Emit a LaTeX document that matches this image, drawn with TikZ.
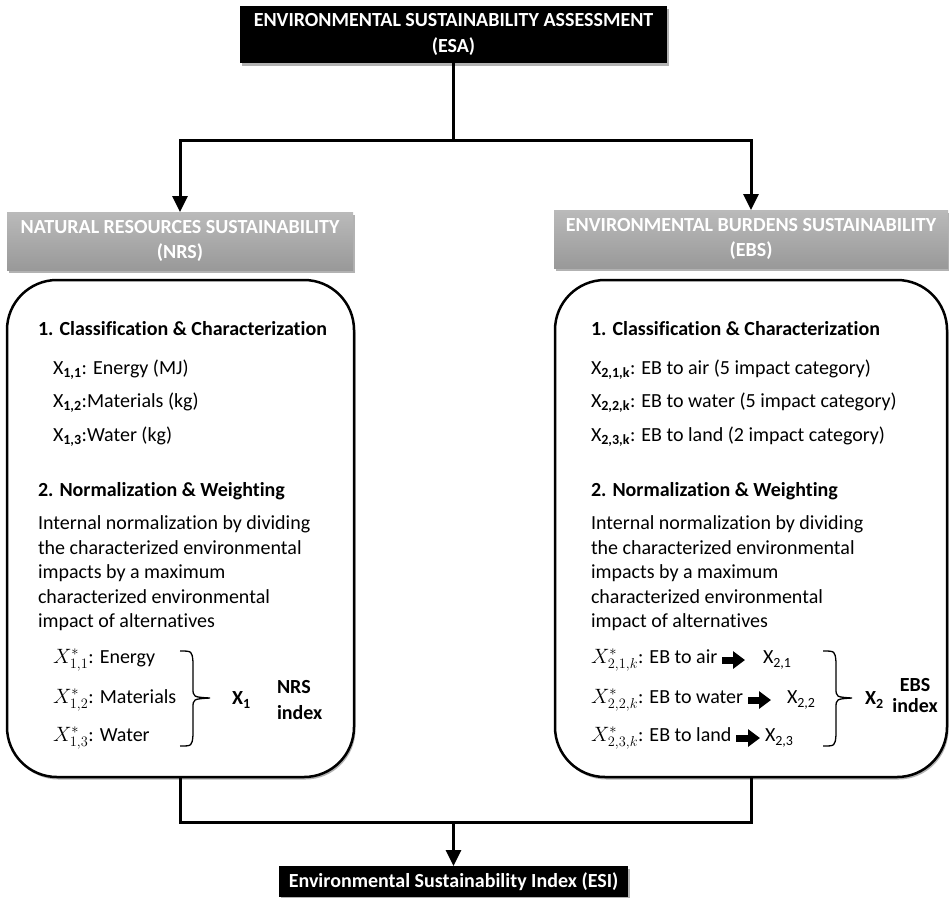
\documentclass[tikz,border=0pt]{standalone}
\usepackage{fontspec}
\setmainfont[Ligatures=NoCommon]{Carlito}
\usetikzlibrary{arrows.meta,shadows}
\begin{document}
\begin{tikzpicture}[x=1pt,y=-1pt,
  every node/.style={inner sep=0pt, outer sep=0pt},
  txt/.style={font=\fontsize{20}{24.5}\selectfont, anchor=west},
  btxt/.style={font=\fontsize{20}{24.5}\selectfont\bfseries, anchor=west},
  shd/.style={drop shadow={shadow xshift=1.5pt, shadow yshift=-2.5pt, opacity=0.3, fill=black}},
  blackbox/.style={shd, fill=black, text=white, font=\fontsize{20}{26}\selectfont\bfseries, align=center},
  graybox/.style={shd, top color=black!27, bottom color=black!40, draw=none, text=white, font=\fontsize{20}{25}\selectfont\bfseries, align=center},
  panel/.style={shd, draw=black, line width=2.5pt, fill=white, rounded corners=50pt},
  conn/.style={line width=3pt},
  arr/.style={conn, -{Triangle[width=15pt,length=16pt]}},
  blockarr/.style={line width=7pt, -{Triangle[width=17pt,length=12pt]}},
  brc/.style={line width=1.3pt}
]
\fill[white] (0,0) rectangle (949,897);
\useasboundingbox (0,0) rectangle (949,897);

% boxes
\node[blackbox, minimum width=427pt, minimum height=57pt] (esa) at (453.5,34.5)
  {ENVIRONMENTAL SUSTAINABILITY ASSESSMENT\\(ESA)};
\node[graybox, minimum width=346pt, minimum height=58pt] (nrs) at (180,241)
  {NATURAL RESOURCES SUSTAINABILITY\\(NRS)};
\node[graybox, minimum width=394pt, minimum height=58pt] (ebs) at (751,239)
  {ENVIRONMENTAL BURDENS SUSTAINABILITY\\(EBS)};
\node[panel, minimum width=347pt, minimum height=497pt] (lbox) at (180.5,528.5) {};
\node[panel, minimum width=392pt, minimum height=497pt] (rbox) at (751,528.5) {};
\node[blackbox, minimum width=349pt, minimum height=31pt, font=\fontsize{20}{24}\selectfont\bfseries] (esi) at (453.5,881.5)
  {Environmental Sustainability Index (ESI)};

% connectors
\coordinate (tj) at (453.5,140);
\draw[conn] (esa.south) -- (tj);
\draw[arr] (tj) -| (nrs.north);
\draw[arr] (tj) -| (ebs.north);
\coordinate (bj) at (453.5,822);
\draw[conn] (lbox.south) |- (bj) -| (rbox.south);
\draw[arr] (bj) -- (esi.north);

% left panel text
\node[btxt] (lh1) at (38,329) {1. Classification \& Characterization};
\node[txt] (l11) at (53,370) {X\textsubscript{\bfseries 1,1}: Energy (MJ)};
\node[txt] (l12) at (53,403) {X\textsubscript{\bfseries 1,2}:Materials (kg)};
\node[txt] (l13) at (53,437) {X\textsubscript{\bfseries 1,3}:Water (kg)};
\node[btxt] (lh2) at (38,491) {2. Normalization \& Weighting};
\node[txt, anchor=north west, align=left] (lp) at (38,516)
  {Internal normalization by dividing\\the characterized environmental\\impacts by a maximum\\characterized environmental\\impact of alternatives};
\node[txt] (ls1) at (53,660) {$X^{*}_{1,1}$: Energy};
\node[txt] (ls2) at (53,700) {$X^{*}_{1,2}$: Materials};
\node[txt] (ls3) at (53,738) {$X^{*}_{1,3}$: Water};
\draw[brc] (180,651) .. controls (192,651) .. (193,662) -- (193,688)
  .. controls (193,697) .. (210,698)
  .. controls (193,699) .. (193,708) -- (193,735)
  .. controls (192,746) .. (180,746);
\node[btxt] (x1) at (232,700) {X\textsubscript{1}};
\node[btxt, align=left, font=\fontsize{20}{26}\selectfont\bfseries] (nrsi) at (277,700) {NRS\\index};

% right panel text
\node[btxt] (rh1) at (591,329) {1. Classification \& Characterization};
\node[txt] (r1) at (591,370) {X\textsubscript{\bfseries 2,1,k}: EB to air (5 impact category)};
\node[txt] (r2) at (591,403) {X\textsubscript{\bfseries 2,2,k}: EB to water (5 impact category)};
\node[txt] (r3) at (591,437) {X\textsubscript{\bfseries 2,3,k}: EB to land (2 impact category)};
\node[btxt] (rh2) at (591,491) {2. Normalization \& Weighting};
\node[txt, anchor=north west, align=left] (rp) at (591,516)
  {Internal normalization by dividing\\the characterized environmental\\impacts by a maximum\\characterized environmental\\impact of alternatives};
\node[txt] (rs1) at (591,660) {$X^{*}_{2,1,k}$: EB to air};
\node[txt] (rs2) at (591,700) {$X^{*}_{2,2,k}$: EB to water};
\node[txt] (rs3) at (591,738) {$X^{*}_{2,3,k}$: EB to land};
\node[txt] (x21) at (763,660) {X\textsubscript{2,1}};
\node[txt] (x22) at (787,700) {X\textsubscript{2,2}};
\node[txt] (x23) at (765,738) {X\textsubscript{2,3}};
\draw[blockarr] ([xshift=5pt]rs1.east) -- ([xshift=-18pt]x21.west);
\draw[blockarr] ([xshift=5pt]rs2.east) -- ([xshift=-16pt]x22.west);
\draw[blockarr] ([xshift=5pt]rs3.east) -- ([xshift=-5pt]x23.west);
\draw[brc] (823,651) .. controls (835,651) .. (836,662) -- (836,688)
  .. controls (836,697) .. (852,698)
  .. controls (836,699) .. (836,708) -- (836,735)
  .. controls (835,746) .. (823,746);
\node[btxt] (x2) at (865,700) {X\textsubscript{2}};
\node[btxt, anchor=center, align=center, font=\fontsize{20}{21}\selectfont\bfseries] (ebsi) at (915,696) {EBS\\index};
\end{tikzpicture}
\end{document}
